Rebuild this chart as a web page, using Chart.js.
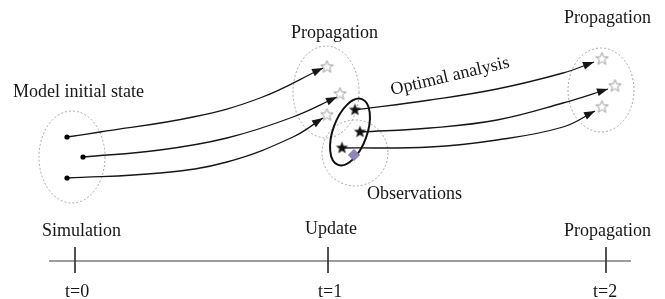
<!DOCTYPE html>
<html>
<head>
<meta charset="utf-8">
<script src="https://cdn.jsdelivr.net/npm/chart.js@4.4.1/dist/chart.umd.min.js"></script>
<style>
  html, body { margin: 0; padding: 0; background: #fff; }
  #wrap { width: 665px; height: 299px; }
</style>
</head>
<body>
<div id="wrap"><canvas id="c" width="665" height="299"></canvas></div>
<script>
// diagram space: x 0..665, y 0..299 (y grows downward)
const initialMembers = [[67, 137], [83, 157], [67, 178]];
const forecastPaths = [
	[[67, 137], [100, 132], [193, 117], [260, 98], [323, 68]],
	[[83, 157], [160, 150], [227, 138], [293, 117], [337, 97]],
	[[67, 178], [160, 173], [227, 162], [293, 137], [323, 118]]
];
const forecastStars = [[327, 67], [340, 94], [327, 115]];
const analysisStars = [[355, 110], [360, 132], [342, 148]];
const observation = [[354, 155]];
const analysisPaths = [
	[[355, 110], [430, 100], [497, 89], [563, 73], [594, 62]],
	[[360, 132], [430, 128], [497, 120], [563, 103], [608, 89]],
	[[342, 148], [430, 147], [497, 140], [563, 127], [595, 111]]
];
const propagatedStars = [[602, 59], [615, 86], [602, 107]];
// [cx, cy, rx, ry, rotation deg]
const spreadEllipses = [[72, 157, 33, 46, 0], [326, 92, 33, 46, 0], [601, 90, 33, 42, 0], [355, 153, 33, 33, 0]];
const analysisEllipse = [350, 132, 17, 35, 20];

const timeRange = [49, 631];
const timeTicks = [75, 328, 606];
const stageLabels = ['Simulation', 'Update', 'Propagation'];
const timeLabels = ['t=0', 't=1', 't=2'];

const figureLabels = ['Model initial state', 'Propagation', 'Propagation', 'Optimal analysis', 'Observations'];

// text anchors (left, baseline, angle)
const labelSpots = [[13, 97, 0], [291, 38, 0], [564, 23, 0], [392, 95, -13.3], [367, 199, 0]];
const stageSpots = [[42, 236], [305, 234], [564, 236]];
const timeSpots = [[65, 297], [318, 297], [593, 297]];

const INK = '#161616';
const FONT = '18px "Liberation Serif", "Times New Roman", serif';

function pts(arr) {
	return arr.map(p => ({ x: p[0], y: p[1] }));
}

function makeStar(fill, stroke, R) {
	const s = Math.ceil(R * 2 + 4);
	const cv = document.createElement('canvas');
	cv.width = s;
	cv.height = s;
	const g = cv.getContext('2d');
	g.beginPath();
	for (let i = 0; i < 10; i++) {
		const r = i % 2 === 0 ? R : R * 0.42;
		const a = -Math.PI / 2 + i * Math.PI / 5;
		const px = s / 2 + r * Math.cos(a);
		const py = s / 2 + r * Math.sin(a);
		if (i === 0) g.moveTo(px, py); else g.lineTo(px, py);
	}
	g.closePath();
	g.fillStyle = fill;
	g.fill();
	if (stroke) {
		g.strokeStyle = stroke;
		g.lineWidth = 1;
		g.stroke();
	}
	return cv;
}

const blackStar = makeStar('#111', null, 6.5);
const hollowStar = makeStar('#fff', '#9c9c9c', 6.5);

const datasets = [];

forecastPaths.concat(analysisPaths).forEach(p => {
	datasets.push({
		data: pts(p),
		showLine: true,
		tension: 0.4,
		borderColor: INK,
		borderWidth: 1.3,
		pointRadius: 0,
		arrow: true,
		order: 3
	});
});

// timeline
datasets.push({
	data: pts([[timeRange[0], 261], [timeRange[1], 261]]),
	showLine: true,
	borderColor: '#3a3a3a',
	borderWidth: 1,
	pointRadius: 0,
	order: 3
});
timeTicks.forEach(t => {
	datasets.push({
		data: pts([[t, 247], [t, 273]]),
		showLine: true,
		borderColor: '#3a3a3a',
		borderWidth: 1,
		pointRadius: 0,
		order: 3
	});
});

datasets.push({
	data: pts(initialMembers),
	pointStyle: 'circle',
	pointRadius: 2.6,
	backgroundColor: '#000',
	borderWidth: 0,
	order: 1
});
datasets.push({
	data: pts(forecastStars.concat(propagatedStars)),
	pointStyle: hollowStar,
	order: 1
});
datasets.push({
	data: pts(analysisStars),
	pointStyle: blackStar,
	order: 1
});
datasets.push({
	data: pts(observation),
	pointStyle: 'rectRot',
	pointRadius: 5.5,
	backgroundColor: '#9284bd',
	borderColor: '#7d6fac',
	borderWidth: 1,
	order: 1
});

// ellipses behind the lines
const ellipsePlugin = {
	id: 'ellipses',
	beforeDatasetsDraw(chart) {
		const xs = chart.scales.x, ys = chart.scales.y, ctx = chart.ctx;
		const draw = (e, dashed) => {
			const cx = xs.getPixelForValue(e[0]);
			const cy = ys.getPixelForValue(e[1]);
			const rx = Math.abs(xs.getPixelForValue(e[0] + e[2]) - cx);
			const ry = Math.abs(ys.getPixelForValue(e[1] + e[3]) - cy);
			ctx.save();
			ctx.beginPath();
			ctx.ellipse(cx, cy, rx, ry, e[4] * Math.PI / 180, 0, Math.PI * 2);
			if (dashed) {
				ctx.setLineDash([2, 2]);
				ctx.strokeStyle = '#a6a6a6';
				ctx.lineWidth = 1;
			} else {
				ctx.strokeStyle = '#111';
				ctx.lineWidth = 2;
			}
			ctx.stroke();
			ctx.restore();
		};
		spreadEllipses.forEach(e => draw(e, true));
		draw(analysisEllipse, false);
	}
};

// arrowheads at the end of each trajectory
const arrowPlugin = {
	id: 'arrows',
	afterDatasetsDraw(chart) {
		const ctx = chart.ctx;
		chart.data.datasets.forEach((ds, i) => {
			if (!ds.arrow) return;
			const el = chart.getDatasetMeta(i).data;
			const last = el[el.length - 1];
			const prev = el[el.length - 2];
			const bx = last.cp1x !== undefined ? last.cp1x : prev.x;
			const by = last.cp1y !== undefined ? last.cp1y : prev.y;
			const a = Math.atan2(last.y - by, last.x - bx);
			ctx.save();
			ctx.translate(last.x, last.y);
			ctx.rotate(a);
			ctx.beginPath();
			ctx.moveTo(0, 0);
			ctx.lineTo(-11, -4);
			ctx.lineTo(-11, 4);
			ctx.closePath();
			ctx.fillStyle = INK;
			ctx.fill();
			ctx.restore();
		});
	}
};

const textPlugin = {
	id: 'texts',
	afterDraw(chart) {
		const xs = chart.scales.x, ys = chart.scales.y, ctx = chart.ctx;
		ctx.save();
		ctx.font = FONT;
		ctx.fillStyle = INK;
		ctx.textAlign = 'left';
		ctx.textBaseline = 'alphabetic';
		const put = (txt, s) => {
			ctx.save();
			ctx.translate(xs.getPixelForValue(s[0]), ys.getPixelForValue(s[1]));
			if (s[2]) ctx.rotate(s[2] * Math.PI / 180);
			ctx.fillText(txt, 0, 0);
			ctx.restore();
		};
		figureLabels.forEach((t, i) => put(t, labelSpots[i]));
		stageLabels.forEach((t, i) => put(t, stageSpots[i]));
		timeLabels.forEach((t, i) => put(t, timeSpots[i]));
		ctx.restore();
	}
};

new Chart(document.getElementById('c'), {
	type: 'scatter',
	data: { datasets: datasets },
	options: {
		responsive: false,
		animation: false,
		devicePixelRatio: 1,
		layout: { padding: 0, autoPadding: false },
		plugins: {
			legend: { display: false },
			tooltip: { enabled: false }
		},
		scales: {
			x: { type: 'linear', min: 0, max: 665, display: false },
			y: { type: 'linear', min: 0, max: 299, reverse: true, display: false }
		}
	},
	plugins: [ellipsePlugin, arrowPlugin, textPlugin]
});
</script>
</body>
</html>
